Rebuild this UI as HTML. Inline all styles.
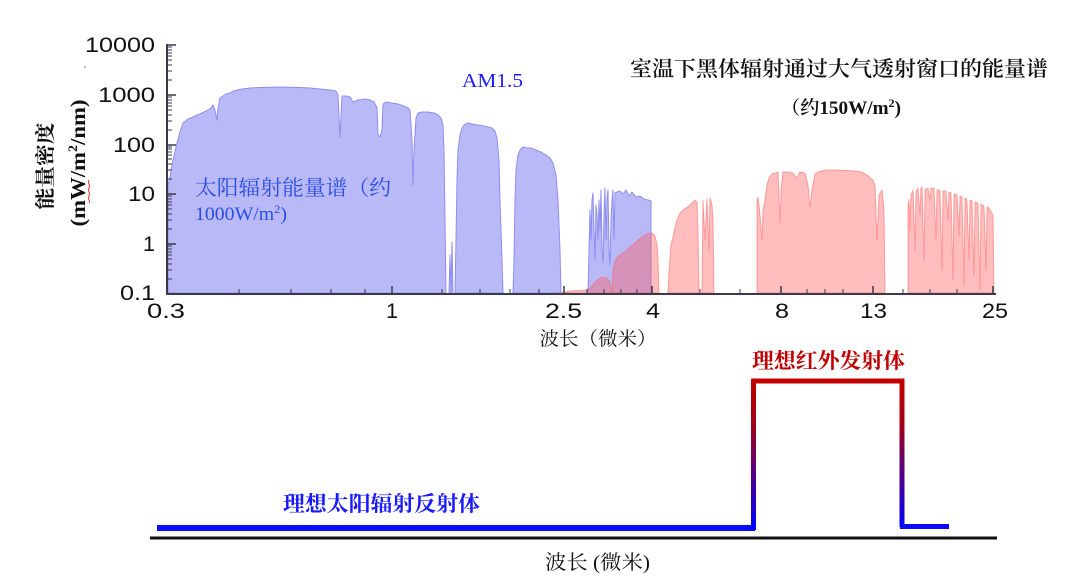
<!DOCTYPE html>
<html><head><meta charset="utf-8">
<style>
html,body{margin:0;padding:0;background:#fff;}
svg{display:block;}
.cj{font-family:"Liberation Serif","Noto Serif CJK SC",serif;}
.num{font-family:"Liberation Sans",sans-serif;font-size:21px;fill:#111;}
</style></head>
<body>
<svg width="1080" height="581" viewBox="0 0 1080 581" xmlns="http://www.w3.org/2000/svg">
<defs>
<linearGradient id="g" x1="0" y1="381" x2="0" y2="528" gradientUnits="userSpaceOnUse">
<stop offset="0" stop-color="#c00000"/>
<stop offset="0.3" stop-color="#a00018"/>
<stop offset="1" stop-color="#0000ff"/>
</linearGradient>
</defs>
<rect width="1080" height="581" fill="#fff"/>

<!-- Solar spectrum (blue) -->
<g fill="#b9b9f8" stroke="#8e8ef0" stroke-width="1" stroke-linejoin="round">
<path d="M168,293 L168,185 L170,177 L173,160 L177,143 L180,132 L183,123 L188,119 L193,117 L197,115 L200,114 L204,112 L208,110 L211,108 L213,105 L215,110 L217,120 L218,108 L220,98 L223,96 L226,94 L230,93 L234,91 L237,90 L242,89 L250,88 L260,87.5 L280,87 L300,87.5 L310,88 L320,89 L330,90 L336,91 L338,95 L340,137 L342,96 L346,96 L350,97 L353,102 L358,100 L365,99 L370,100 L374,102 L377,108 L378,135 L380,137 L382,130 L383,104 L386,102 L392,103 L398,104 L404,106 L408,108 L410,110 L412,140 L413,185 L414,150 L416,118 L418,113 L422,112 L428,112 L434,113 L438,115 L441,118 L443,125 L444,150 L445,220 L446,293 Z"/>
<path d="M449,293 L450,255 L451,293 L452,242 L453,293 Z"/>
<path d="M455,293 L456,240 L457,180 L458,150 L460,135 L462,128 L464,125 L467,123 L472,124 L478,125 L484,126 L488,127 L492,128 L495,131 L497,138 L499,160 L500,200 L502,260 L503,293 Z"/>
<path d="M513,293 L514,260 L515,200 L516,170 L518,155 L520,150 L523,147 L527,148 L531,148 L536,150 L541,152 L546,155 L550,158 L553,163 L556,175 L558,200 L560,250 L561,293 Z"/>
<path d="M588,293 L589,250 L590,210 L591,240 L592,200 L593,193 L594,230 L595,260 L596,205 L597,215 L598,240 L599,200 L600,230 L601,190 L602,250 L603,262 L604,215 L605,188 L606,240 L607,200 L608,190 L609,250 L610,265 L611,220 L612,200 L613,190 L614,240 L615,193 L617,192 L620,191 L623,194 L626,190 L629,196 L632,192 L636,197 L640,196 L644,199 L648,200 L651,201 L651,293 Z"/>
</g>

<!-- Blackbody through atmospheric window (red) -->
<g fill="rgba(255,90,90,0.4)" stroke="rgba(255,100,100,0.55)" stroke-width="1" stroke-linejoin="round">
<path d="M560,293 L570,291 L588,290 L593,285 L597,280 L602,277 L607,278 L610,282 L612,290 L613,293 Z"/>
<path d="M612,293 L613,270 L615,260 L620,255 L625,252 L630,247 L634,244 L638,240 L642,237 L647,234 L652,233 L655,236 L657,245 L658,258 L659,293 Z"/>
<path d="M668,293 L669,270 L671,245 L673,237 L675,228 L677,220 L680,213 L683,210 L686,208 L688,207 L691,204 L695,200 L697,202 L698,230 L699,293 L702,293 L703,200 L705,240 L707,199 L709,250 L710,198 L712,205 L713,220 L714,293 Z"/>
<path d="M757,293 L757,200 L758,197 L760,215 L762,240 L763,210 L765,200 L767,185 L769,178 L772,174 L775,173 L778,172 L780,223 L781,190 L783,172 L788,172 L793,173 L797,178 L800,172 L805,173 L808,185 L810,207 L812,190 L815,174 L818,172 L825,170 L835,170 L845,170.5 L855,171 L862,172 L867,175 L870,178 L873,180 L875,186 L877,240 L879,195 L882,190 L884,210 L885,293 Z"/>
<path d="M908,293 L908,205 L909,200 L910,230 L911,195 L913,190 L915,250 L916,192 L918,188 L920,215 L921,188 L922,187 L924,260 L925,190 L928,188 L930,200 L931,188 L934,188 L936,240 L937,190 L940,190 L942,270 L943,191 L946,191 L948,220 L949,192 L951,193 L953,280 L954,194 L957,195 L959,235 L960,196 L962,197 L964,285 L965,198 L967,200 L969,260 L970,200 L972,201 L974,275 L975,202 L978,203 L980,290 L981,204 L984,206 L986,270 L987,207 L989,208 L991,212 L993,215 L994,293 Z"/>
</g>

<!-- Axes -->
<g stroke="#3a3a4a" stroke-width="2" fill="none">
<line x1="167" y1="44" x2="167" y2="295"/>
<line x1="166" y1="294" x2="996" y2="294"/>
</g>
<g stroke="#3a3a4a" stroke-width="1.5">
<line x1="167" y1="45" x2="176" y2="45"/>
<line x1="167" y1="95" x2="176" y2="95"/>
<line x1="167" y1="145" x2="176" y2="145"/>
<line x1="167" y1="194" x2="176" y2="194"/>
<line x1="167" y1="244" x2="176" y2="244"/>
</g>
<g stroke="#3a3a4a" stroke-width="1">
<path d="M167,80 h5 M167,71 h5 M167,65 h5 M167,60 h5 M167,56 h5 M167,53 h5 M167,50 h5 M167,47 h5
M167,130 h5 M167,121 h5 M167,115 h5 M167,110 h5 M167,106 h5 M167,103 h5 M167,100 h5 M167,97 h5
M167,179 h5 M167,170 h5 M167,164 h5 M167,159 h5 M167,155 h5 M167,152 h5 M167,149 h5 M167,147 h5
M167,229 h5 M167,220 h5 M167,214 h5 M167,209 h5 M167,205 h5 M167,202 h5 M167,199 h5 M167,196 h5
M167,279 h5 M167,270 h5 M167,264 h5 M167,259 h5 M167,255 h5 M167,252 h5 M167,249 h5 M167,246 h5"/>
</g>
<g stroke="#3a3a4a" stroke-width="1.5">
<path d="M392,294 v-8 M564,294 v-8 M652,294 v-8 M781,294 v-8 M873,294 v-8 M993,294 v-8"/>
</g>
<g stroke="#3a3a4a" stroke-width="1">
<path d="M239,294 v-5 M291,294 v-5 M331,294 v-5 M365,294 v-5 M442,294 v-5 M480,294 v-5 M510,294 v-5 M539,294 v-5 M587,294 v-5 M604,294 v-5 M621,294 v-5 M637,294 v-5 M700,294 v-5 M740,294 v-5 M807,294 v-5 M825,294 v-5 M843,294 v-5 M903,294 v-5 M930,294 v-5 M957,294 v-5"/>
</g>

<!-- Y tick labels -->
<g class="num" lengthAdjust="spacingAndGlyphs">
<text x="85" y="52" textLength="70" lengthAdjust="spacingAndGlyphs">10000</text>
<text x="98" y="102" textLength="57" lengthAdjust="spacingAndGlyphs">1000</text>
<text x="113" y="152" textLength="42" lengthAdjust="spacingAndGlyphs">100</text>
<text x="128" y="201" textLength="27" lengthAdjust="spacingAndGlyphs">10</text>
<text x="143" y="251" textLength="12" lengthAdjust="spacingAndGlyphs">1</text>
<text x="120" y="300" textLength="35" lengthAdjust="spacingAndGlyphs">0.1</text>
</g>
<!-- X tick labels -->
<g class="num">
<text x="147" y="318" textLength="38" lengthAdjust="spacingAndGlyphs">0.3</text>
<text x="386" y="318" textLength="12" lengthAdjust="spacingAndGlyphs">1</text>
<text x="545" y="318" textLength="37" lengthAdjust="spacingAndGlyphs">2.5</text>
<text x="646" y="318" textLength="14" lengthAdjust="spacingAndGlyphs">4</text>
<text x="775" y="318" textLength="14" lengthAdjust="spacingAndGlyphs">8</text>
<text x="860" y="318" textLength="27" lengthAdjust="spacingAndGlyphs">13</text>
<text x="982" y="318" textLength="26" lengthAdjust="spacingAndGlyphs">25</text>
</g>
<circle cx="85" cy="67" r="0.8" fill="#666"/>

<!-- axis titles -->
<text class="cj" x="598" y="345" text-anchor="middle" font-size="19" fill="#111" textLength="117" lengthAdjust="spacingAndGlyphs">波长（微米）</text>
<text class="cj" transform="translate(52,166) rotate(-90)" text-anchor="middle" font-size="20" font-weight="bold" fill="#111" textLength="87" lengthAdjust="spacingAndGlyphs">能量密度</text>
<text class="cj" transform="translate(85,163) rotate(-90)" text-anchor="middle" font-size="21" font-weight="bold" fill="#111" textLength="127" lengthAdjust="spacingAndGlyphs">(mW/m<tspan font-size="13" dy="-8">2</tspan><tspan dy="8">/nm)</tspan></text>
<path d="M89,180 q-1,2 0,4 t0,4 t0,4 t0,4 t0,4 t0,3" stroke="#e04040" stroke-width="1" fill="none"/>

<!-- annotations -->
<text class="cj" x="462" y="87" font-size="20" fill="#1a1aff" textLength="61" lengthAdjust="spacingAndGlyphs">AM1.5</text>
<text class="cj" x="630" y="76" font-size="21" font-weight="600" fill="#111" textLength="418" lengthAdjust="spacingAndGlyphs">室温下黑体辐射通过大气透射窗口的能量谱</text>
<text class="cj" x="781" y="114" font-size="19" font-weight="600" fill="#111" textLength="120" lengthAdjust="spacingAndGlyphs">（约150W/m<tspan font-size="12" dy="-7">2</tspan><tspan dy="7">)</tspan></text>
<text class="cj" x="195" y="195" font-size="21" fill="#2a4fe0" textLength="196" lengthAdjust="spacingAndGlyphs">太阳辐射能量谱（约</text>
<text class="cj" x="195" y="220" font-size="19" fill="#2a4fe0" textLength="92" lengthAdjust="spacingAndGlyphs">1000W/m<tspan font-size="12" dy="-7">2</tspan><tspan dy="7">)</tspan></text>

<!-- bottom ideal diagram -->
<line x1="157" y1="528" x2="755" y2="528" stroke="#0a0aff" stroke-width="6"/>
<path d="M753.5,530 L753.5,381 L902,381 L902,527" stroke="url(#g)" stroke-width="5" fill="none"/>
<line x1="753.5" y1="381" x2="902" y2="381" stroke="#c00000" stroke-width="5"/>
<line x1="900" y1="526.5" x2="949" y2="526.5" stroke="#0a0aff" stroke-width="5"/>
<line x1="150" y1="538" x2="997" y2="538" stroke="#111" stroke-width="3"/>

<text class="cj" x="752" y="368" font-size="21" font-weight="bold" fill="#c00000" textLength="153" lengthAdjust="spacingAndGlyphs">理想红外发射体</text>
<text class="cj" x="283" y="511" font-size="21" font-weight="bold" fill="#1a1aff" textLength="197" lengthAdjust="spacingAndGlyphs">理想太阳辐射反射体</text>
<text class="cj" x="545" y="569" font-size="20" fill="#111" textLength="105" lengthAdjust="spacingAndGlyphs">波长 (微米)</text>
</svg>
</body></html>
